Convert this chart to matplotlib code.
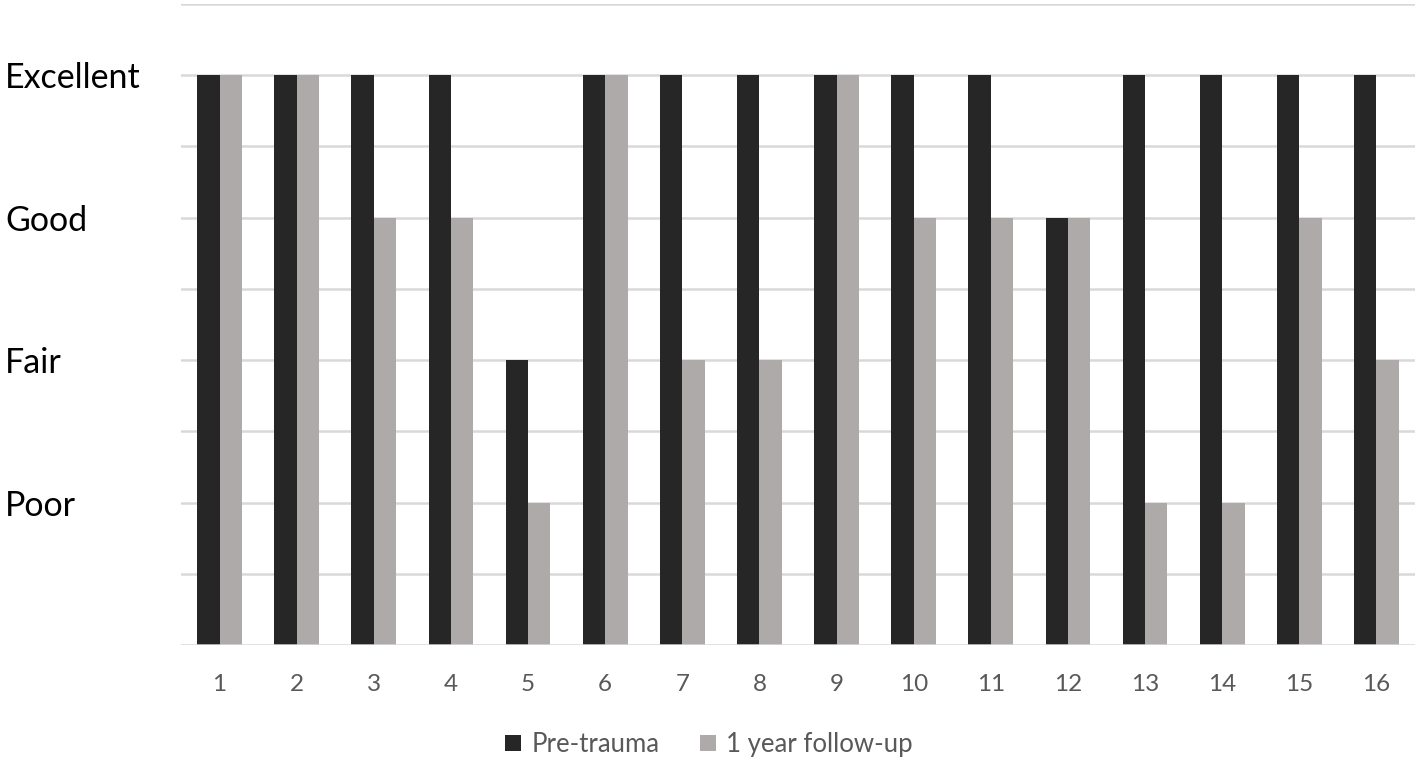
import matplotlib
matplotlib.use("Agg")
import matplotlib.pyplot as plt
import numpy as np

patients = [str(i) for i in range(1, 17)]
rating_labels = ["Poor", "Fair", "Good", "Excellent"]
rating_values = [1, 2, 3, 4]
pre_trauma = [4, 4, 4, 4, 2, 4, 4, 4, 4, 4, 4, 3, 4, 4, 4, 4]
follow_up = [4, 4, 3, 3, 1, 4, 2, 2, 4, 3, 3, 3, 1, 1, 3, 2]
series_names = ["Pre-trauma", "1 year follow-up"]
colors = ["#262626", "#AEAAAA"]

plt.rcParams['font.family'] = ['Lato', 'DejaVu Sans']

fig = plt.figure(figsize=(14.18, 7.65), dpi=100)
ax = fig.add_axes([181/1418, 120/765, (1415-181)/1418, (645-4)/765])

x = np.arange(len(patients))
w = 0.29
ax.bar(x - w/2, pre_trauma, width=w, color=colors[0], label=series_names[0], zorder=3)
ax.bar(x + w/2, follow_up, width=w, color=colors[1], label=series_names[1], zorder=3)

ax.set_xlim(-0.5, len(patients) - 0.5)
ax.set_ylim(0, 4.5)
for yv in np.arange(0.5, 4.51, 0.5):
    ax.axhline(yv, color="#D9D9D9", linewidth=1.8, zorder=1)
ax.axhline(0, color="#D9D9D9", linewidth=1.8, zorder=4)

ax.set_xticks(x)
ax.set_xticklabels(patients, fontsize=17.5, color="#595959")
ax.tick_params(axis='x', length=0, pad=21)
ax.set_yticks(rating_values)
ax.set_yticklabels(rating_labels, fontsize=24.5, color="black")
ax.tick_params(axis='y', length=0, pad=(181-5)*72/100)
for lbl in ax.get_yticklabels():
    lbl.set_horizontalalignment('left')

for s in ax.spines.values():
    s.set_visible(False)

fig.legend(loc='lower center', bbox_to_anchor=(0.5, -0.02), ncol=2, frameon=False,
           fontsize=18.5, handlelength=0.6, handleheight=0.6, handletextpad=0.4,
           columnspacing=1.6, labelcolor="#595959")

fig.savefig("out.png", dpi=100)
